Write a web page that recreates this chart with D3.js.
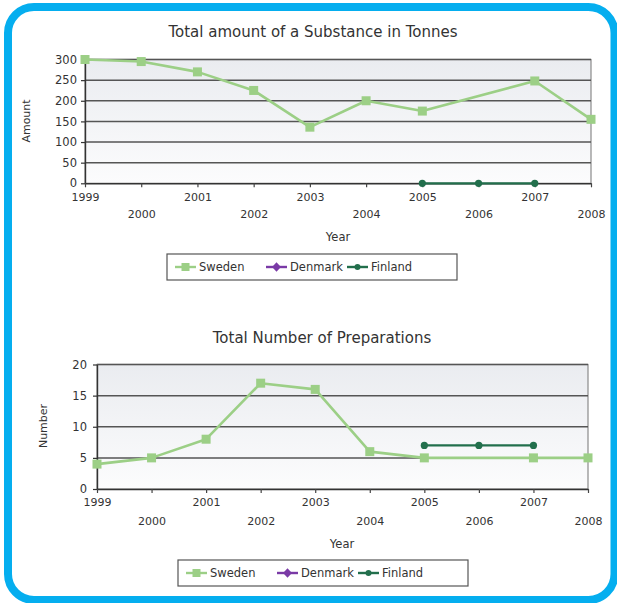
<!DOCTYPE html>
<html>
<head>
<meta charset="utf-8">
<script src="https://cdn.jsdelivr.net/npm/d3@7"></script>
<style>
  html, body { margin: 0; padding: 0; background: #ffffff; }
  svg { display: block; }
  text { font-family: "DejaVu Sans", Verdana, sans-serif; fill: #333; }
</style>
</head>
<body>
<svg id="chart" width="617" height="603"></svg>
<script>
// Years on the category axis
const years = ["1999", "2000", "2001", "2002", "2003", "2004", "2005", "2006", "2007", "2008"];

// Total amount of substance (tonnes) per country; null = no report
const amountSweden  = [300, 295, 270, 225, 136, 200, 175, null, 248, 155];
const amountDenmark = [null, null, null, null, null, null, null, null, null, null];
const amountFinland = [null, null, null, null, null, null, 0, 0, 0, null];

// Total number of preparations per country
const prepSweden  = [4, 5, 8, 17, 16, 6, 5, null, 5, 5];
const prepDenmark = [null, null, null, null, null, null, null, null, null, null];
const prepFinland = [null, null, null, null, null, null, 7, 7, 7, null];

// Axis ticks
const amountTicks = [0, 50, 100, 150, 200, 250, 300];
const prepTicks = [0, 5, 10, 15, 20];

const countries = ["Sweden", "Denmark", "Finland"];
const colors = { Sweden: "#9ccf86", Denmark: "#7a3aa6", Finland: "#226f4c" };

const svg = d3.select("#chart");

// Plot-area background gradient
const defs = svg.append("defs");
const grad = defs.append("linearGradient").attr("id", "plotBg")
  .attr("x1", 0).attr("y1", 0).attr("x2", 0).attr("y2", 1);
grad.append("stop").attr("offset", "0%").attr("stop-color", "#eaecf0");
grad.append("stop").attr("offset", "100%").attr("stop-color", "#fcfcfd");

// Rounded blue frame around the whole figure
svg.append("rect")
  .attr("x", 8).attr("y", 7).attr("width", 606.5).attr("height", 593)
  .attr("rx", 26).attr("ry", 26)
  .attr("fill", "none").attr("stroke", "#05aeef").attr("stroke-width", 8);

function drawChart(cfg) {
  const g = svg.append("g");
  const x = d3.scalePoint().domain(years).range([cfg.left, cfg.right]).padding(0);
  const y = d3.scaleLinear().domain([0, cfg.max]).range([cfg.bottom, cfg.top]);

  // plot background and frame
  g.append("rect")
    .attr("x", cfg.left).attr("y", cfg.top)
    .attr("width", cfg.right - cfg.left).attr("height", cfg.bottom - cfg.top)
    .attr("fill", "url(#plotBg)").attr("stroke", "#8a8a8a").attr("stroke-width", 1.2);

  // horizontal gridlines
  g.append("g").selectAll("line").data(cfg.ticks.filter(t => t > 0)).join("line")
    .attr("x1", cfg.left).attr("x2", cfg.right)
    .attr("y1", d => y(d)).attr("y2", d => y(d))
    .attr("stroke", "#555").attr("stroke-width", 1.5);

  // y axis
  const ya = g.append("g").attr("transform", `translate(${cfg.left},0)`)
    .call(d3.axisLeft(y).tickValues(cfg.ticks).tickSize(4).tickPadding(cfg.yPad).tickSizeOuter(0));
  ya.select(".domain").attr("stroke", "#333").attr("stroke-width", 1.4);
  ya.selectAll(".tick line").attr("stroke", "#333").attr("stroke-width", 1.2);
  ya.selectAll(".tick text").attr("font-size", 11.5).attr("fill", "#333")
    .attr("font-family", "DejaVu Sans");

  // x axis with staggered labels
  const xa = g.append("g").attr("transform", `translate(0,${cfg.bottom})`)
    .call(d3.axisBottom(x).tickSize(4).tickPadding(4).tickSizeOuter(0));
  xa.select(".domain").attr("stroke", "#333").attr("stroke-width", 1.4);
  xa.selectAll(".tick line").attr("stroke", "#444").attr("stroke-width", 1.2);
  xa.selectAll(".tick text").attr("font-size", 11).attr("fill", "#333")
    .attr("font-family", "DejaVu Sans")
    .attr("y", (d, i) => i % 2 === 0 ? cfg.row1 : cfg.row2)
    .attr("dy", "0.35em");

  // chart title
  g.append("text").attr("x", cfg.titleX).attr("y", cfg.titleY)
    .attr("text-anchor", "middle").attr("dominant-baseline", "central")
    .attr("font-size", 15).attr("fill", "#404040").text(cfg.title);

  // axis titles
  g.append("text").attr("x", cfg.xTitleX).attr("y", cfg.xTitleY)
    .attr("text-anchor", "middle").attr("dominant-baseline", "central")
    .attr("font-size", 11.5).attr("fill", "#333").text("Year");
  g.append("text")
    .attr("transform", `translate(${cfg.yTitleX},${cfg.yTitleY}) rotate(-90)`)
    .attr("text-anchor", "middle").attr("dominant-baseline", "central")
    .attr("font-size", 11).attr("fill", "#333").text(cfg.yTitle);

  // series lines (gaps are bridged between reported years)
  const line = d3.line().x(d => x(d.year)).y(d => y(d.v));
  countries.forEach(c => {
    const pts = cfg.series[c].map((v, i) => ({ year: years[i], v })).filter(d => d.v !== null);
    if (!pts.length) return;
    const col = colors[c];
    g.append("path").datum(pts).attr("d", line)
      .attr("fill", "none").attr("stroke", col)
      .attr("stroke-width", c === "Sweden" ? 2.6 : 2.2)
      .attr("stroke-linejoin", "round");
    if (c === "Sweden") {
      g.append("g").selectAll("rect").data(pts).join("rect")
        .attr("x", d => x(d.year) - 4.5).attr("y", d => y(d.v) - 4.5)
        .attr("width", 9).attr("height", 9).attr("fill", "#9ccf86");
    } else {
      g.append("g").selectAll("circle").data(pts).join("circle")
        .attr("cx", d => x(d.year)).attr("cy", d => y(d.v)).attr("r", 3.6)
        .attr("fill", col);
    }
  });

  // legend
  const lg = g.append("g");
  lg.append("rect").attr("x", cfg.legX).attr("y", cfg.legY)
    .attr("width", 290).attr("height", 26)
    .attr("fill", "#fff").attr("stroke", "#555").attr("stroke-width", 1.2);
  const offs = [8, 99, 180];
  countries.forEach((c, i) => {
    const lx = cfg.legX + offs[i], ly = cfg.legY + 13;
    lg.append("line").attr("x1", lx).attr("x2", lx + 21).attr("y1", ly).attr("y2", ly)
      .attr("stroke", colors[c]).attr("stroke-width", 2.4);
    if (c === "Sweden") {
      lg.append("rect").attr("x", lx + 6.5).attr("y", ly - 4).attr("width", 8).attr("height", 8)
        .attr("fill", colors[c]);
    } else if (c === "Denmark") {
      lg.append("path").attr("d", d3.symbol(d3.symbolDiamond, 40)())
        .attr("transform", `translate(${lx + 10.5},${ly}) scale(1.3,0.8)`).attr("fill", colors[c]);
    } else {
      lg.append("circle").attr("cx", lx + 10.5).attr("cy", ly).attr("r", 3).attr("fill", colors[c]);
    }
    lg.append("text").attr("x", lx + 24).attr("y", ly).attr("dominant-baseline", "central")
      .attr("font-size", 11.5).attr("fill", "#333").text(c);
  });
}

drawChart({
  title: "Total amount of a Substance in Tonnes", titleX: 313, titleY: 32,
  yTitle: "Amount", yTitleX: 26, yTitleY: 121,
  xTitleX: 338, xTitleY: 237,
  left: 85, right: 591, top: 59.5, bottom: 183.3,
  max: 300, ticks: amountTicks, yPad: 4,
  row1: 14, row2: 31,
  legX: 167, legY: 254,
  series: { Sweden: amountSweden, Denmark: amountDenmark, Finland: amountFinland }
});

drawChart({
  title: "Total Number of Preparations", titleX: 322, titleY: 338,
  yTitle: "Number", yTitleX: 43, yTitleY: 426,
  xTitleX: 342, xTitleY: 544,
  left: 97, right: 588, top: 364.5, bottom: 489,
  max: 20, ticks: prepTicks, yPad: 6,
  row1: 13, row2: 32,
  legX: 178, legY: 560,
  series: { Sweden: prepSweden, Denmark: prepDenmark, Finland: prepFinland }
});
</script>
</body>
</html>
